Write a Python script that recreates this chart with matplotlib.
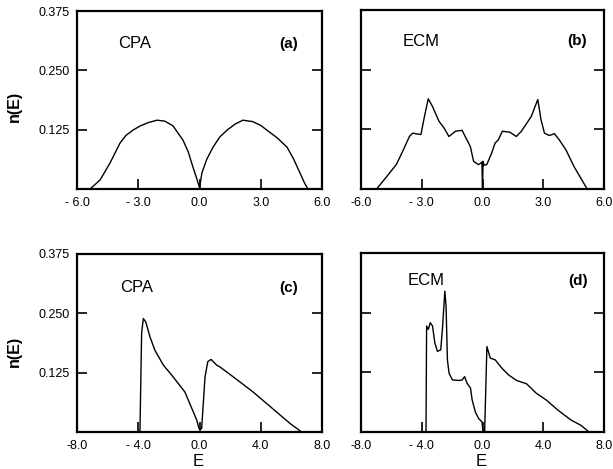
import numpy as np
import matplotlib
matplotlib.use("Agg")
import matplotlib.pyplot as plt

plt.rcParams['font.family'] = ['Liberation Sans', 'DejaVu Sans']

# (a) CPA, top row
e_a = [-5.36, -4.87, -4.38, -3.89, -3.6, -3.26, -2.9, -2.5, -2.08, -1.7, -1.3,
       -0.81, -0.55, -0.32, -0.12, 0.0, 0.12, 0.35, 0.66, 1.0, 1.35, 1.75, 2.13,
       2.6, 3.0, 3.3, 3.8, 4.29, 4.6, 4.92, 5.15, 5.31]
n_a = [0.0, 0.019, 0.055, 0.097, 0.113, 0.124, 0.133, 0.140, 0.145, 0.143, 0.133,
       0.103, 0.078, 0.046, 0.020, 0.003, 0.034, 0.062, 0.088, 0.110, 0.124, 0.137, 0.145,
       0.142, 0.134, 0.124, 0.108, 0.088, 0.064, 0.034, 0.012, 0.0]

# (b) ECM, top row
e_b = [-5.23, -4.75, -4.26, -3.94, -3.61, -3.45, -3.04, -2.88, -2.68, -2.47, -2.15,
       -1.90, -1.66, -1.33, -1.01, -0.77, -0.60, -0.44, -0.20, -0.03, 0.0, 0.03, 0.07,
       0.21, 0.45, 0.62, 0.78, 0.98, 1.35, 1.67, 1.92, 2.41, 2.73, 2.89, 3.06, 3.30,
       3.55, 3.79, 4.12, 4.52, 4.85, 5.17]
n_b = [0.0, 0.025, 0.051, 0.079, 0.110, 0.117, 0.114, 0.149, 0.189, 0.173, 0.142,
       0.128, 0.110, 0.121, 0.123, 0.103, 0.089, 0.058, 0.051, 0.056, 0.003, 0.058, 0.050,
       0.051, 0.075, 0.096, 0.103, 0.121, 0.119, 0.110, 0.121, 0.152, 0.1875, 0.145, 0.117, 0.112,
       0.116, 0.103, 0.082, 0.047, 0.023, 0.0]

# (c) CPA, bottom row
e_c = [-3.89, -3.78, -3.67, -3.51, -3.23, -2.91, -2.36, -1.82, -1.38, -0.95, -0.73,
       -0.40, -0.18, -0.03, 0.14, 0.36, 0.54, 0.75, 1.12, 1.34, 2.21, 3.51, 5.04,
       5.91, 6.67]
n_c = [0.0, 0.208, 0.239, 0.232, 0.200, 0.172, 0.141, 0.120, 0.102, 0.084, 0.067,
       0.042, 0.025, 0.007, 0.007, 0.116, 0.148, 0.153, 0.141, 0.137, 0.116, 0.084, 0.042,
       0.018, 0.0]

# (d) ECM, bottom row
e_d = [-3.72, -3.68, -3.57, -3.44, -3.29, -3.14, -2.97, -2.75, -2.64, -2.48, -2.40,
       -2.31, -2.20, -1.98, -1.55, -1.34, -1.18, -1.01, -0.79, -0.68, -0.47, -0.25,
       -0.03, 0.03, 0.14, 0.29, 0.51, 0.84, 1.27, 1.70, 2.24, 2.90, 3.55, 4.20, 4.96,
       5.83, 6.48, 7.02]
n_d = [0.0, 0.222, 0.215, 0.229, 0.222, 0.187, 0.169, 0.172, 0.215, 0.295, 0.264,
       0.151, 0.123, 0.109, 0.108, 0.109, 0.116, 0.102, 0.092, 0.067, 0.042, 0.028,
       0.021, 0.0, 0.0, 0.179, 0.155, 0.151, 0.134, 0.120, 0.108, 0.101, 0.081, 0.067, 0.046,
       0.025, 0.014, 0.0]

yticks = [0.125, 0.250, 0.375]
ytick_labels = ["0.125", "0.250", "0.375"]
top_xticks = [-6, -3, 0, 3, 6]
top_xlabels_a = ["- 6.0", "- 3.0", "0.0", "3.0", "6.0"]
top_xlabels_b = ["-6.0", "- 3.0", "0.0", "3.0", "6.0"]
bot_xticks = [-8, -4, 0, 4, 8]
bot_xlabels = ["-8.0", "- 4.0", "0.0", "4.0", "8.0"]

fig = plt.figure(figsize=(6.13, 4.69), dpi=100)

W = 613.0
H = 469.0
def box(l, r, t, b):
    return [l / W, 1 - b / H, (r - l) / W, (b - t) / H]

ax_a = fig.add_axes(box(77, 322, 11, 189))
ax_b = fig.add_axes(box(361, 604, 10, 189))
ax_c = fig.add_axes(box(77, 322, 254, 432))
ax_d = fig.add_axes(box(361, 604, 253, 432))

panels = [
    (ax_a, e_a, n_a, (-6, 6), top_xticks, top_xlabels_a, "CPA", "(a)", 0.167, 0.815, 0.90, True),
    (ax_b, e_b, n_b, (-6, 6), top_xticks, top_xlabels_b, "ECM", "(b)", 0.17, 0.825, 0.93, False),
    (ax_c, e_c, n_c, (-8, 8), bot_xticks, bot_xlabels, "CPA", "(c)", 0.175, 0.81, 0.90, True),
    (ax_d, e_d, n_d, (-8, 8), bot_xticks, bot_xlabels, "ECM", "(d)", 0.19, 0.845, 0.935, False),
]

for ax, e, n, xl, xt, xtl, name, tag, nx, ny, tx, left in panels:
    ax.plot(e, n, color='black', lw=1.0)
    ax.set_xlim(*xl)
    ax.set_ylim(0, 0.375)
    ax.set_xticks(xt)
    ax.set_xticklabels(xtl)
    ax.set_yticks(yticks)
    if left:
        ax.set_yticklabels(ytick_labels)
    else:
        ax.set_yticklabels([])
    ax.tick_params(direction='in', length=7, width=1.2, labelsize=9, pad=5,
                   right=True, top=False)
    ax.tick_params(axis='x', pad=6)
    for s in ax.spines.values():
        s.set_linewidth(1.6)
    ax.text(nx, ny, name, transform=ax.transAxes, fontsize=12,
            ha='left', va='center')
    ax.text(tx, ny, tag, transform=ax.transAxes, fontsize=11,
            fontweight='bold', ha='right', va='center')

for ax, yc in [(ax_a, 0.466), (ax_c, 0.45)]:
    ax.set_ylabel("n(E)", fontsize=11.5, fontweight='bold')
    ax.yaxis.set_label_coords(-0.225, yc)

for ax in [ax_c, ax_d]:
    ax.set_xlabel("E", fontsize=12)
    ax.xaxis.set_label_coords(0.493, -0.125)

fig.savefig("out.png", dpi=100)
